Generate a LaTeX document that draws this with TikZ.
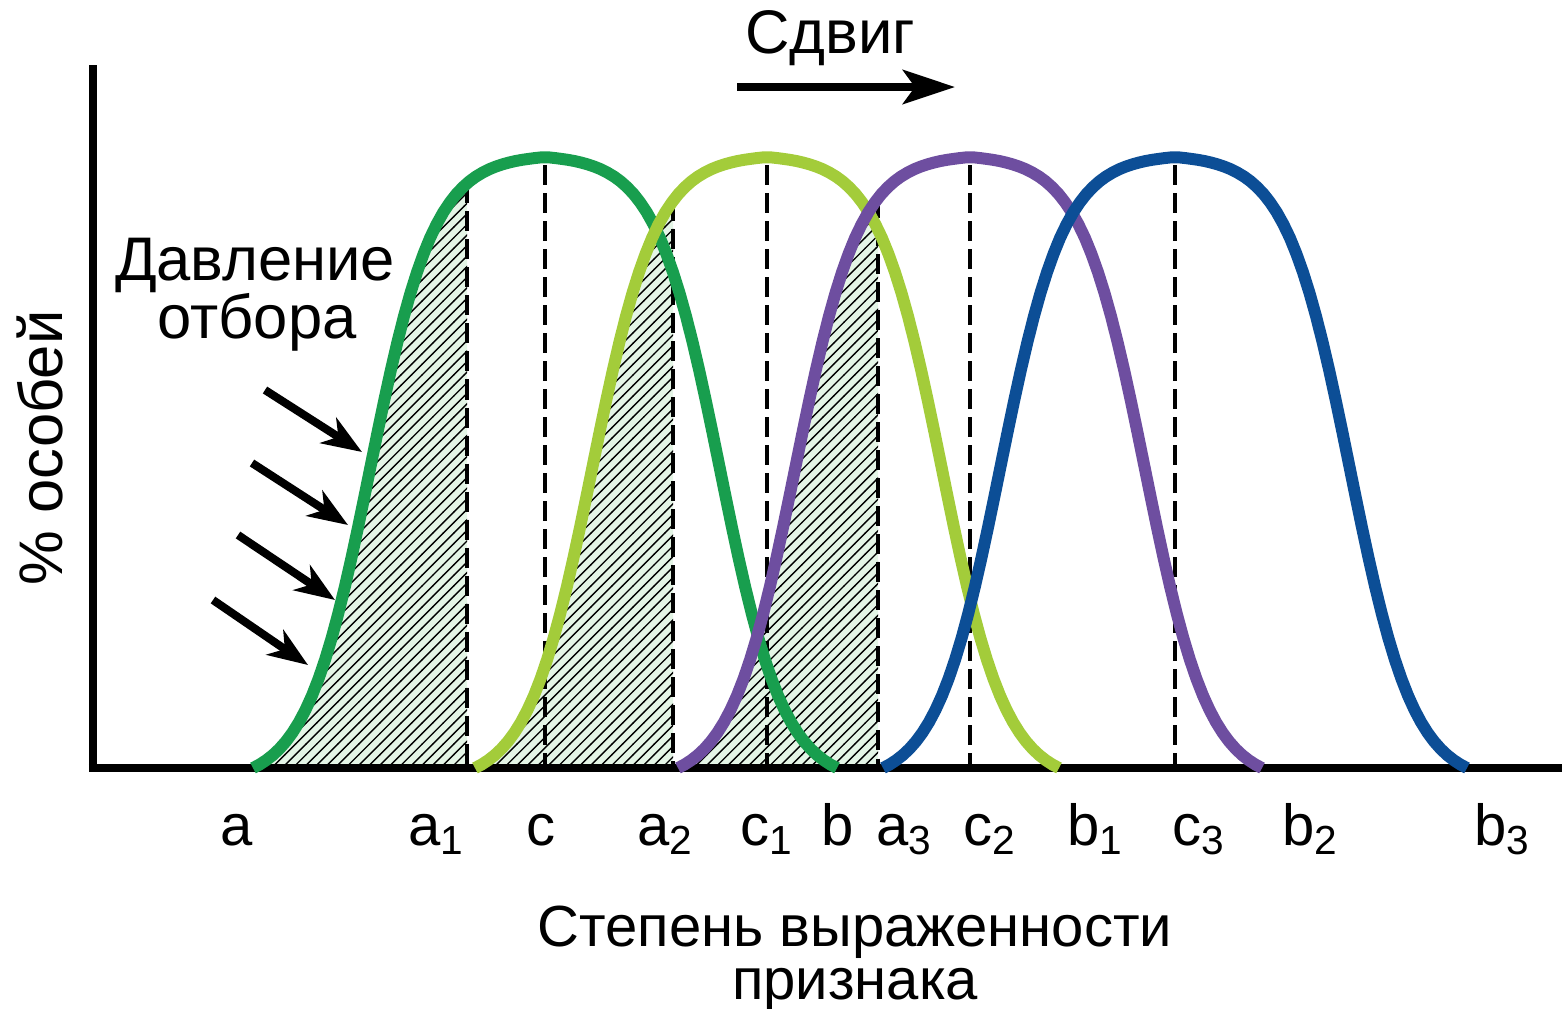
\documentclass[tikz,border=0pt]{standalone}
\usepackage{fontspec}
\setmainfont{Liberation Sans}
\usetikzlibrary{arrows.meta,patterns}

\definecolor{popA}{RGB}{24,158,78}
\definecolor{popB}{RGB}{163,204,58}
\definecolor{popC}{RGB}{110,78,160}
\definecolor{popD}{RGB}{12,78,150}
\definecolor{hatchbg}{RGB}{228,245,230}

\tikzset{
  curve/.style={line width=3.4pt},
  mean/.style={black, line width=0.9pt, dash pattern=on 0.2cm off 0.08cm},
  hatched/.style={fill=hatchbg, postaction={pattern=north east lines, pattern color=black}},
  push/.style={line width=2.3pt, -{Stealth[length=0.4cm,width=0.3cm,inset=0.12cm]}},
  lbl/.style={anchor=base west, font=\fontsize{16.5}{20}\selectfont},
}

\begin{document}
\begin{tikzpicture}[x=0.01cm, y=-0.01cm,
  every node/.style={font=\fontsize{17.5}{21}\selectfont, inner sep=0pt},
  declare function={bell(\d)=(1/(1+exp((abs(\d)-175)/32))-0.0252)/0.9706;}]
  \useasboundingbox (0,0) rectangle (1562,1008);
  \coordinate (O) at (93,768);
  \coordinate (Ytop) at (93,65);
  \coordinate (Xend) at (1562,768);
  \coordinate (shiftL) at (737,87);
  \coordinate (shiftR) at (955,87);
  % hatched tails
  \path[hatched] (253,768) -- plot[domain=-292:-78, samples=50] ({545+\x},{768-611*bell(\x)}) -- (467,768) -- cycle;
  \path[hatched] (475,768) -- plot[domain=-292:-94, samples=50] ({767+\x},{768-611*bell(\x)}) -- (673,768) -- cycle;
  \path[hatched] (678,768) -- plot[domain=-292:-92, samples=50] ({970+\x},{768-611*bell(\x)}) -- (878,768) -- cycle;
  % dashed lines
  \draw[mean] (467,{768-611*bell(-78)}) -- (467,768);
  \draw[mean] (673,{768-611*bell(-94)}) -- (673,768);
  \draw[mean] (878,{768-611*bell(-92)}) -- (878,768);
  \draw[mean] (545,165) -- (545,768);
  \draw[mean] (767,165) -- (767,768);
  \draw[mean] (970,165) -- (970,768);
  \draw[mean] (1175,165) -- (1175,768);
  % axes
  \draw[line width=2.3pt] (Ytop) -- ([yshift=-0.035cm]O);
  \draw[line width=2pt] ([xshift=-0.04cm]O) -- (Xend);
  % curves
  \draw[curve, popA] plot[domain=-292:292, samples=90] ({545+\x},{768-611*bell(\x)});
  \draw[curve, popB] plot[domain=-292:292, samples=90] ({767+\x},{768-611*bell(\x)});
  \draw[curve, popC] plot[domain=-292:292, samples=90] ({970+\x},{768-611*bell(\x)});
  \draw[curve, popD] plot[domain=-292:292, samples=90] ({1175+\x},{768-611*bell(\x)});
  % selection pressure
  \coordinate (p1) at (265,390); \coordinate (q1) at (362,452);
  \coordinate (p2) at (252,463); \coordinate (q2) at (348,525);
  \coordinate (p3) at (238,535); \coordinate (q3) at (335,600);
  \coordinate (p4) at (213,600); \coordinate (q4) at (308,665);
  \draw[push] (p1) -- (q1);
  \draw[push] (p2) -- (q2);
  \draw[push] (p3) -- (q3);
  \draw[push] (p4) -- (q4);
  \node[anchor=base] (press1) at (255,280) {Давление};
  \node[anchor=base] (press2) at (257,338) {отбора};
  % shift
  \node[anchor=base] (shift) at (830,53) {Сдвиг};
  \draw[line width=2.3pt, -{Stealth[length=0.52cm,width=0.34cm,inset=0.12cm]}] (shiftL) -- (shiftR);
  % axis titles
  \node[anchor=base, rotate=90] (ytitle) at (63,448) {\% особей};
  \node[anchor=north, align=center, font=\fontsize{16.5}{20}\selectfont]
    (xtitle) at (855,905) {Степень выраженности\\[-4.9pt]признака};
  % labels
  \node[lbl] (la)  at (220,845)  {a};
  \node[lbl] (la1) at (408,845)  {a\textsubscript{1}};
  \node[lbl] (lc)  at (526,845)  {c};
  \node[lbl] (la2) at (637,845)  {a\textsubscript{2}};
  \node[lbl] (lc1) at (740,845)  {c\textsubscript{1}};
  \node[lbl] (lb)  at (821,845)  {b};
  \node[lbl] (la3) at (876,845)  {a\textsubscript{3}};
  \node[lbl] (lc2) at (963,845)  {c\textsubscript{2}};
  \node[lbl] (lb1) at (1067,845) {b\textsubscript{1}};
  \node[lbl] (lc3) at (1172,845) {c\textsubscript{3}};
  \node[lbl] (lb2) at (1282,845) {b\textsubscript{2}};
  \node[lbl] (lb3) at (1474,845) {b\textsubscript{3}};
\end{tikzpicture}
\end{document}
